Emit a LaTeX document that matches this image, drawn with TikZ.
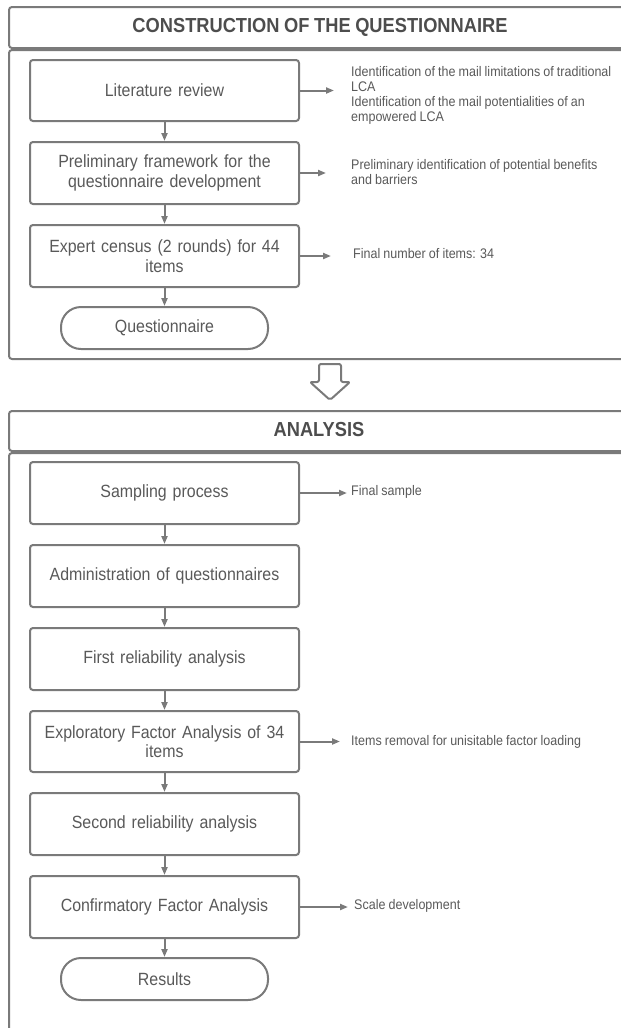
\documentclass[tikz,border=0pt]{standalone}
\usepackage{fontspec}
\setmainfont[FakeStretch=0.9,WordSpace=0.9]{Liberation Sans}
\usetikzlibrary{arrows.meta}
\definecolor{lineg}{HTML}{7A7A7A}
\definecolor{txtg}{HTML}{595959}
\definecolor{titg}{HTML}{4D4D4D}
\tikzset{
  frame/.style={draw=lineg, line width=2pt, rounded corners=3pt},
  stepbox/.style={draw=lineg, line width=2pt, rounded corners=3pt, minimum width=269pt, minimum height=62pt,
    text width=255pt, align=center, inner sep=0pt, text=txtg, font=\fontsize{17.7}{19.5}\selectfont},
  endbox/.style={draw=lineg, line width=2pt, rounded corners=20pt, minimum width=207pt, minimum height=42pt,
    inner sep=0pt, text=txtg, font=\fontsize{17.7}{19.5}\selectfont},
  sidetext/.style={anchor=west, inner sep=0pt, align=left, text=txtg, font=\fontsize{13.9}{15}\selectfont},
  titletext/.style={text=titg, font=\bfseries\fontsize{20.3}{22}\selectfont, inner sep=0pt},
  conn/.style={draw=lineg, line width=2pt, -{Triangle[length=8pt,width=6pt]}},
  bigarrow/.style={draw=lineg, line width=2pt, rounded corners=2pt, line join=round}
}
\begin{document}
\begin{tikzpicture}[x=1pt,y=-1pt]
\useasboundingbox (0,0) rectangle (621,1028);
\clip (0,0) rectangle (621,1028);
% frames
\draw[frame] (9,7) rectangle (630,48);
\draw[frame] (9,50) rectangle (630,359);
\draw[frame] (9,411) rectangle (630,451);
\draw[frame] (9,453) rectangle (630,1045);
\node[titletext] (t1) at (320,27) {CONSTRUCTION OF THE QUESTIONNAIRE};
\node[titletext] (t2) at (319,430) {ANALYSIS};
% hollow arrow
\draw[bigarrow] (319,364) -- (341,364) -- (341,382) -- (350,382) -- (330,400) -- (310,382) -- (319,382) -- cycle;
% top boxes
\node[stepbox, minimum height=61pt] (lit) at (164.5,90.5) {Literature review};
\node[stepbox] (pre) at (164.5,173) {Preliminary framework for the\\questionnaire development};
\node[stepbox] (exp) at (164.5,256) {Expert census (2 rounds) for 44\\items};
\node[endbox] (quest) at (164.5,328) {Questionnaire};
% analysis boxes
\node[stepbox] (samp) at (164.5,493) {Sampling process};
\node[stepbox] (adm) at (164.5,576) {Administration of questionnaires};
\node[stepbox] (rel1) at (164.5,659) {First reliability analysis};
\node[stepbox, minimum height=61pt] (efa) at (164.5,741.5) {Exploratory Factor Analysis of 34\\items};
\node[stepbox] (rel2) at (164.5,824) {Second reliability analysis};
\node[stepbox] (cfa) at (164.5,907) {Confirmatory Factor Analysis};
\node[endbox] (res) at (164.5,979) {Results};
% vertical connectors
\draw[conn] (lit) -- (pre);
\draw[conn] (pre) -- (exp);
\draw[conn] (exp) -- (quest);
\draw[conn] (samp) -- (adm);
\draw[conn] (adm) -- (rel1);
\draw[conn] (rel1) -- (efa);
\draw[conn] (efa) -- (rel2);
\draw[conn] (rel2) -- (cfa);
\draw[conn] (cfa) -- (res);
% side texts
\node[sidetext] (s1) at (351,95) {Identification of the mail limitations of traditional\\LCA\\Identification of the mail potentialities of an\\empowered LCA};
\node[sidetext] (s2) at (351,172) {Preliminary identification of potential benefits\\and barriers};
\node[sidetext] (s3) at (353,254) {Final number of items: 34};
\node[sidetext] (s4) at (351,492) {Final sample};
\node[sidetext] (s5) at (351,742) {Items removal for unisitable factor loading};
\node[sidetext] (s6) at (354,906) {Scale development};
% side arrow tips
\coordinate (a1) at (334,90.5);
\coordinate (a2) at (326,173);
\coordinate (a3) at (331,256);
\coordinate (a4) at (347,493);
\coordinate (a5) at (340,741.5);
\coordinate (a6) at (348,907);
\draw[conn] (lit.east) -- (a1);
\draw[conn] (pre.east) -- (a2);
\draw[conn] (exp.east) -- (a3);
\draw[conn] (samp.east) -- (a4);
\draw[conn] (efa.east) -- (a5);
\draw[conn] (cfa.east) -- (a6);
\end{tikzpicture}
\end{document}
